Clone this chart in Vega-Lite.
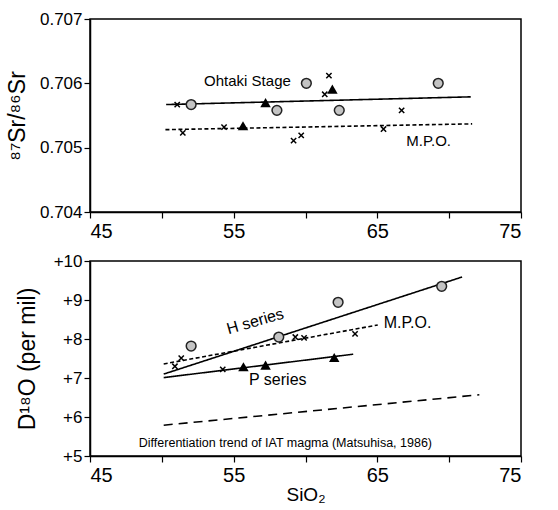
{
  "$schema": "https://vega.github.io/schema/vega-lite/v6.json",
  "padding": {"top": 9, "left": 5, "right": 5, "bottom": 0},
  "background": "white",
  "config": {
    "font": "Liberation Sans",
    "view": {"stroke": "black", "strokeWidth": 1.5},
    "axis": {"grid": false, "domainColor": "black", "tickColor": "black", "labelColor": "black", "titleColor": "black", "titleFontWeight": "normal", "labelFont": "Liberation Sans", "titleFont": "Liberation Sans", "tickSize": 6, "domainWidth": 1.5, "tickWidth": 1.2, "labelOverlap": false}
  },
  "spacing": 9,
  "datasets": {
    "topPoints": [
      {"kind": "circle", "sio2": 52.04, "v": 0.70567},
      {"kind": "circle", "sio2": 60.06, "v": 0.70600},
      {"kind": "circle", "sio2": 58.01, "v": 0.70558},
      {"kind": "circle", "sio2": 62.35, "v": 0.70558},
      {"kind": "circle", "sio2": 69.24, "v": 0.70600},
      {"kind": "triangle", "sio2": 57.22, "v": 0.70570},
      {"kind": "triangle", "sio2": 61.87, "v": 0.70591},
      {"kind": "triangle", "sio2": 55.65, "v": 0.70534},
      {"kind": "cross", "sio2": 51.07, "v": 0.70567},
      {"kind": "cross", "sio2": 51.46, "v": 0.70523},
      {"kind": "cross", "sio2": 54.33, "v": 0.70532},
      {"kind": "cross", "sio2": 59.17, "v": 0.70511},
      {"kind": "cross", "sio2": 59.70, "v": 0.70519},
      {"kind": "cross", "sio2": 61.63, "v": 0.70612},
      {"kind": "cross", "sio2": 61.34, "v": 0.70583},
      {"kind": "cross", "sio2": 66.69, "v": 0.70558},
      {"kind": "cross", "sio2": 65.43, "v": 0.70529}
    ],
    "topLines": [
      {"line": "Ohtaki", "style": "solid", "sio2": 50.3, "v": 0.70567},
      {"line": "Ohtaki", "style": "solid", "sio2": 71.5, "v": 0.70579},
      {"line": "MPO", "style": "dotted", "sio2": 50.25, "v": 0.70528},
      {"line": "MPO", "style": "dotted", "sio2": 71.6, "v": 0.70537}
    ],
    "topLabels": [
      {"text": "Ohtaki Stage", "sio2": 55.96, "v": 0.70604},
      {"text": "M.P.O.", "sio2": 68.57, "v": 0.70510}
    ],
    "botPoints": [
      {"kind": "circle", "sio2": 52.04, "v": 7.82},
      {"kind": "circle", "sio2": 58.14, "v": 8.05},
      {"kind": "circle", "sio2": 62.27, "v": 8.94},
      {"kind": "circle", "sio2": 69.48, "v": 9.35},
      {"kind": "triangle", "sio2": 55.68, "v": 7.29},
      {"kind": "triangle", "sio2": 57.22, "v": 7.33},
      {"kind": "triangle", "sio2": 62.0, "v": 7.525},
      {"kind": "cross", "sio2": 50.91, "v": 7.3},
      {"kind": "cross", "sio2": 51.35, "v": 7.51},
      {"kind": "cross", "sio2": 54.24, "v": 7.22},
      {"kind": "cross", "sio2": 59.29, "v": 8.05},
      {"kind": "cross", "sio2": 59.9, "v": 8.03},
      {"kind": "cross", "sio2": 63.45, "v": 8.13}
    ],
    "botLines": [
      {"line": "H", "style": "solid", "sio2": 50.13, "v": 7.1},
      {"line": "H", "style": "solid", "sio2": 70.9, "v": 9.59},
      {"line": "P", "style": "solid", "sio2": 50.13, "v": 7.01},
      {"line": "P", "style": "solid", "sio2": 63.32, "v": 7.61},
      {"line": "MPO", "style": "dotted", "sio2": 50.13, "v": 7.36},
      {"line": "MPO", "style": "dotted", "sio2": 65.03, "v": 8.36},
      {"line": "IAT", "style": "dashed", "sio2": 50.13, "v": 5.79},
      {"line": "IAT", "style": "dashed", "sio2": 72.1, "v": 6.57}
    ],
    "botLabels": [
      {"text": "M.P.O.", "sio2": 67.1, "v": 8.42, "size": "big"},
      {"text": "P series", "sio2": 58.07, "v": 6.96, "size": "big"},
      {"text": "Differentiation trend of IAT magma (Matsuhisa, 1986)", "sio2": 58.6, "v": 5.34, "size": "small"}
    ],
    "botRotLabels": [
      {"text": "H series", "sio2": 56.5, "v": 8.45}
    ]
  },
  "vconcat": [
    {
      "width": 431,
      "height": 193,
      "layer": [
        {
          "data": {"name": "topLines"},
          "mark": {"type": "line", "color": "black", "strokeWidth": 1.6},
          "encoding": {
            "x": {"field": "sio2", "type": "quantitative", "scale": {"domain": [45, 75], "nice": false, "zero": false},
              "axis": {"values": [45, 50, 55, 60, 65, 70, 75], "tickCount": 10, "labelExpr": "datum.value % 10 == 5 ? datum.label : ''", "labelFontSize": 20, "labelPadding": 3, "labelOverlap": false, "title": null}},
            "y": {"field": "v", "type": "quantitative", "scale": {"domain": [0.704, 0.707], "nice": false, "zero": false},
              "axis": {"values": [0.704, 0.705, 0.706, 0.707], "tickCount": 10, "format": ".3f", "labelFontSize": 17, "labelOverlap": false, "title": "⁸⁷Sr/⁸⁶Sr", "titleFontSize": 23, "titlePadding": 10}},
            "detail": {"field": "line"},
            "strokeDash": {"field": "style", "type": "nominal", "scale": {"domain": ["solid", "dotted", "dashed"], "range": [[1, 0], [4, 2.5], [9, 6]]}, "legend": null}
          }
        },
        {
          "data": {"name": "topPoints"},
          "transform": [{"filter": "datum.kind == 'circle'"}],
          "mark": {"type": "point", "shape": "circle", "filled": true, "fill": "#c4c4c4", "stroke": "#222", "strokeWidth": 1.5, "size": 95, "opacity": 1},
          "encoding": {"x": {"field": "sio2", "type": "quantitative"}, "y": {"field": "v", "type": "quantitative"}}
        },
        {
          "data": {"name": "topPoints"},
          "transform": [{"filter": "datum.kind == 'triangle'"}],
          "mark": {"type": "point", "shape": "triangle-up", "filled": true, "color": "black", "size": 110, "opacity": 1},
          "encoding": {"x": {"field": "sio2", "type": "quantitative"}, "y": {"field": "v", "type": "quantitative"}}
        },
        {
          "data": {"name": "topPoints"},
          "transform": [{"filter": "datum.kind == 'cross'"}],
          "mark": {"type": "point", "shape": "M-1,-1L1,1M-1,1L1,-1", "filled": false, "stroke": "black", "strokeWidth": 1.5, "size": 28, "opacity": 1},
          "encoding": {"x": {"field": "sio2", "type": "quantitative"}, "y": {"field": "v", "type": "quantitative"}}
        },
        {
          "data": {"name": "topLabels"},
          "mark": {"type": "text", "fontSize": 15, "color": "black", "align": "center", "baseline": "middle"},
          "encoding": {"x": {"field": "sio2", "type": "quantitative"}, "y": {"field": "v", "type": "quantitative"}, "text": {"field": "text"}}
        }
      ]
    },
    {
      "width": 431,
      "height": 195,
      "layer": [
        {
          "data": {"name": "botLines"},
          "mark": {"type": "line", "color": "black", "strokeWidth": 1.6},
          "encoding": {
            "x": {"field": "sio2", "type": "quantitative", "scale": {"domain": [45, 75], "nice": false, "zero": false},
              "axis": {"values": [45, 50, 55, 60, 65, 70, 75], "tickCount": 10, "labelExpr": "datum.value % 10 == 5 ? datum.label : ''", "labelFontSize": 20, "labelPadding": 3, "labelOverlap": false, "title": "SiO₂", "titleFontSize": 19, "titlePadding": 0}},
            "y": {"field": "v", "type": "quantitative", "scale": {"domain": [5, 10], "nice": false, "zero": false},
              "axis": {"values": [5, 6, 7, 8, 9, 10], "tickCount": 10, "labelExpr": "'+' + datum.value", "labelFontSize": 17, "labelOverlap": false, "title": "D¹⁸O (per mil)", "titleFontSize": 23, "titlePadding": 14}},
            "detail": {"field": "line"},
            "strokeDash": {"field": "style", "type": "nominal", "scale": {"domain": ["solid", "dotted", "dashed"], "range": [[1, 0], [4, 2.5], [9, 6]]}, "legend": null}
          }
        },
        {
          "data": {"name": "botPoints"},
          "transform": [{"filter": "datum.kind == 'circle'"}],
          "mark": {"type": "point", "shape": "circle", "filled": true, "fill": "#c4c4c4", "stroke": "#222", "strokeWidth": 1.5, "size": 95, "opacity": 1},
          "encoding": {"x": {"field": "sio2", "type": "quantitative"}, "y": {"field": "v", "type": "quantitative"}}
        },
        {
          "data": {"name": "botPoints"},
          "transform": [{"filter": "datum.kind == 'triangle'"}],
          "mark": {"type": "point", "shape": "triangle-up", "filled": true, "color": "black", "size": 110, "opacity": 1},
          "encoding": {"x": {"field": "sio2", "type": "quantitative"}, "y": {"field": "v", "type": "quantitative"}}
        },
        {
          "data": {"name": "botPoints"},
          "transform": [{"filter": "datum.kind == 'cross'"}],
          "mark": {"type": "point", "shape": "M-1,-1L1,1M-1,1L1,-1", "filled": false, "stroke": "black", "strokeWidth": 1.5, "size": 28, "opacity": 1},
          "encoding": {"x": {"field": "sio2", "type": "quantitative"}, "y": {"field": "v", "type": "quantitative"}}
        },
        {
          "data": {"name": "botLabels"},
          "transform": [{"filter": "datum.size == 'big'"}],
          "mark": {"type": "text", "fontSize": 16, "color": "black", "align": "center", "baseline": "middle"},
          "encoding": {"x": {"field": "sio2", "type": "quantitative"}, "y": {"field": "v", "type": "quantitative"}, "text": {"field": "text"}}
        },
        {
          "data": {"name": "botLabels"},
          "transform": [{"filter": "datum.size == 'small'"}],
          "mark": {"type": "text", "fontSize": 12.5, "color": "black", "align": "center", "baseline": "middle"},
          "encoding": {"x": {"field": "sio2", "type": "quantitative"}, "y": {"field": "v", "type": "quantitative"}, "text": {"field": "text"}}
        },
        {
          "data": {"name": "botRotLabels"},
          "mark": {"type": "text", "fontSize": 16, "color": "black", "align": "center", "baseline": "middle", "angle": 344},
          "encoding": {"x": {"field": "sio2", "type": "quantitative"}, "y": {"field": "v", "type": "quantitative"}, "text": {"field": "text"}}
        }
      ]
    }
  ]
}
